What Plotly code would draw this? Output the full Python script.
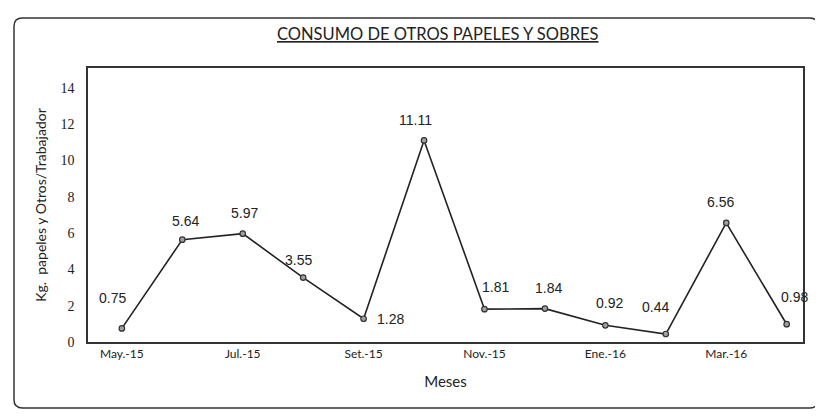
import plotly.graph_objects as go

months = ["May.-15", "Jun.-15", "Jul.-15", "Ago.-15", "Set.-15", "Oct.-15",
          "Nov.-15", "Dic.-15", "Ene.-16", "Feb.-16", "Mar.-16", "Abr.-16"]
values = [0.75, 5.64, 5.97, 3.55, 1.28, 11.11, 1.81, 1.84, 0.92, 0.44, 6.56, 0.98]
tick_months = ["May.-15", "Jul.-15", "Set.-15", "Nov.-15", "Ene.-16", "Mar.-16"]
y_ticks = [0, 2, 4, 6, 8, 10, 12, 14]

# label offsets (pixels) per point: (xshift, yshift)
label_shift = [(-9, 30), (3, 19), (2, 21), (-5, 18), (27, 0), (-9, 20),
               (11, 22), (4, 21), (4, 22), (-10, 27), (-6, 21), (8, 27)]

idx = list(range(len(months)))

fig = go.Figure()
fig.add_trace(go.Scatter(
    x=idx, y=values, mode="lines+markers",
    line=dict(color="#222222", width=1.6),
    marker=dict(symbol="circle", size=5.5, color="#a0a0a0",
                line=dict(color="#333333", width=1.2)),
    showlegend=False, hoverinfo="skip"))

for i, v in enumerate(values):
    dx, dy = label_shift[i]
    fig.add_annotation(x=i, y=v, text=f"{v:.2f}", showarrow=False,
                       xshift=dx, yshift=dy,
                       font=dict(family="Liberation Sans Narrow, Liberation Sans, Arial",
                                 size=14, color="#222222"))

fig.update_xaxes(
    range=[-0.56, 11.27],
    tickmode="array", tickvals=[months.index(m) for m in tick_months],
    ticktext=tick_months, ticks="",
    tickfont=dict(family="Lato, Open Sans", size=12, color="#222222"),
    showgrid=False, zeroline=False,
    showline=True, mirror=True, linecolor="#333333", linewidth=1.5,
    title=dict(text="Meses", font=dict(family="Lato, Open Sans", size=15, color="#222222"),
               standoff=16))
fig.update_yaxes(
    range=[0, 15.1], tickvals=y_ticks, ticks="",
    ticklabelstandoff=9,
    tickfont=dict(family="Liberation Serif, DejaVu Serif", size=14, color="#222222"),
    showgrid=False, zeroline=False,
    showline=True, mirror=True, linecolor="#333333", linewidth=1.5,
    title=dict(text="Kg.  papeles y Otros/Trabajador",
               font=dict(family="Lato, Open Sans", size=14, color="#222222"),
               standoff=11))

fig.add_annotation(xref="paper", yref="paper", x=0.49, y=1.124, yanchor="middle",
                   text="<u>CONSUMO DE OTROS PAPELES Y SOBRES</u>", showarrow=False,
                   font=dict(family="Lato, Open Sans", size=16.5, color="#222222"))

# outer rounded frame
x0, x1, y0, y1 = -0.1035, 1.021, -0.241, 1.1825
rx, ry = 0.012, 0.03
path = (f"M {x0+rx},{y1} L {x1-rx},{y1} Q {x1},{y1} {x1},{y1-ry} "
        f"L {x1},{y0+ry} Q {x1},{y0} {x1-rx},{y0} L {x0+rx},{y0} "
        f"Q {x0},{y0} {x0},{y0+ry} L {x0},{y1-ry} Q {x0},{y1} {x0+rx},{y1} Z")
fig.add_shape(type="path", xref="paper", yref="paper", path=path,
              line=dict(color="#333333", width=1.5))

fig.update_layout(
    width=815, height=409,
    margin=dict(l=80, r=20, t=60, b=75),
    plot_bgcolor="white", paper_bgcolor="white")

fig.write_html("out.html")
